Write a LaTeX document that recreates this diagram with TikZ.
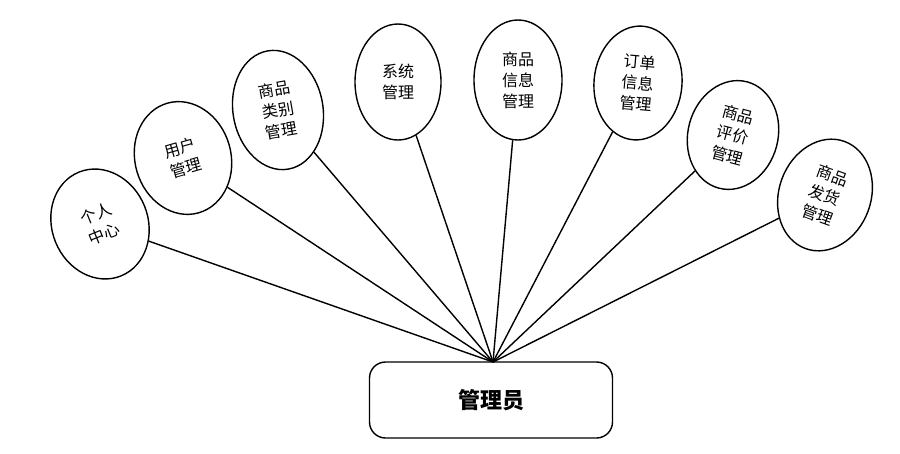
\documentclass[tikz,border=0pt]{standalone}
\usepackage{fontspec}
\setmainfont{Noto Sans CJK SC}
\usetikzlibrary{shapes.geometric}
\tikzset{
  func/.style={draw,line width=1.4pt,ellipse,fill=white,align=center,inner sep=0pt,
    font=\fontsize{16}{21}\selectfont},
  role/.style={draw,line width=1.4pt,rounded corners=16pt,minimum width=243pt,minimum height=76pt,
    font=\fontsize{22}{26}\selectfont\bfseries}
}
\begin{document}
\begin{tikzpicture}[x=1pt,y=-1pt]
\useasboundingbox (0,0) rectangle (900,453);
\node[role] (admin) at (491,400) {管理员};
\coordinate (apex) at (493,362);
\node[func,minimum width=96pt,minimum height=112pt,rotate=22] (center) at (100,224) {个人\\中心};
\node[func,minimum width=96pt,minimum height=114pt,rotate=16] (user) at (183,158) {用户\\管理};
\node[func,minimum width=90pt,minimum height=120pt,rotate=10] (cat) at (278,110) {商品\\类别\\管理};
\node[func,minimum width=86pt,minimum height=116pt] (sys) at (398,82) {系统\\管理};
\node[func,minimum width=88pt,minimum height=120pt] (goods) at (518,80) {商品\\信息\\管理};
\node[func,minimum width=88pt,minimum height=114pt,rotate=-5] (order) at (638,83) {订单\\信息\\管理};
\node[func,minimum width=90pt,minimum height=110pt,rotate=-15] (review) at (733,135) {商品\\评价\\管理};
\node[func,minimum width=92pt,minimum height=114pt,rotate=-20] (ship) at (825,195) {商品\\发货\\管理};
\foreach \n in {center,user,cat,sys,goods,order,review,ship}
  \draw[line width=1.4pt] (\n) -- (apex);
\end{tikzpicture}
\end{document}
